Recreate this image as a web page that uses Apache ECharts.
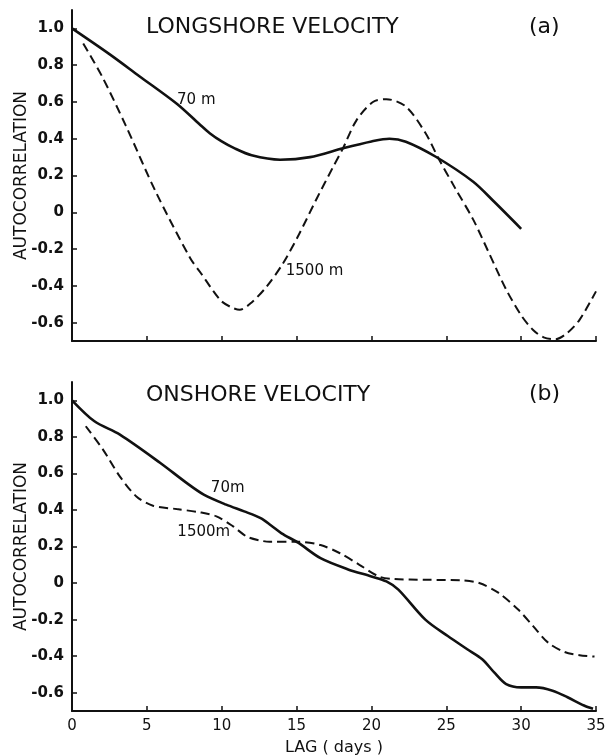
<!DOCTYPE html>
<html>
<head>
<meta charset="utf-8">
<script src="https://cdn.jsdelivr.net/npm/echarts@6/dist/echarts.min.js"></script>
<style>html,body{margin:0;padding:0;background:#fff}#c{width:606px;height:756px}</style>
</head>
<body>
<div id="c"></div>
<script>
// ---- data ----
const yTicks = [-0.6, -0.4, -0.2, 0, 0.2, 0.4, 0.6, 0.8, 1.0];
const xTicks = [0, 5, 10, 15, 20, 25, 30, 35];

// (a) Longshore velocity
const longDays70 = [0, 2.5, 4.5, 7.0, 8.5, 9.2, 10.0, 10.8, 12.0, 13.9, 15.9, 18.1, 20.0, 21.2, 22.3, 24.3, 26.8, 28.2, 30.0];
const longVal70  = [1.0, 0.86, 0.74, 0.59, 0.48, 0.43, 0.385, 0.35, 0.31, 0.286, 0.30, 0.348, 0.385, 0.40, 0.384, 0.302, 0.166, 0.057, -0.09];
const longDays1500 = [0.75, 2.0, 3.6, 5.6, 7.9, 8.6, 9.9, 10.6, 11.2, 12.0, 13.0, 14.1, 15.2, 16.3, 17.45, 18.1, 19.0, 20.1, 21.0, 22.3, 23.6, 24.5, 25.6, 26.8, 27.9, 29.0, 30.0, 30.8, 31.5, 32.3, 33.1, 33.9, 35.0];
const longVal1500  = [0.918, 0.74, 0.47, 0.11, -0.25, -0.33, -0.477, -0.515, -0.53, -0.49, -0.404, -0.277, -0.114, 0.067, 0.248, 0.348, 0.50, 0.60, 0.615, 0.575, 0.432, 0.29, 0.13, -0.04, -0.23, -0.42, -0.56, -0.64, -0.68, -0.69, -0.655, -0.585, -0.43];

// (b) Onshore velocity
const onDays70 = [0, 1.5, 3.2, 5.9, 7.65, 8.8, 10.3, 11.5, 12.6, 13.3, 14.0, 15.1, 16.6, 18.4, 20.0, 21.0, 21.8, 23.6, 25.1, 26.4, 27.4, 28.2, 29.0, 30.0, 31.0, 32.1, 33.1, 34.2, 34.8];
const onVal70  = [1.0, 0.885, 0.812, 0.657, 0.548, 0.484, 0.429, 0.392, 0.355, 0.315, 0.272, 0.221, 0.136, 0.076, 0.036, 0.009, -0.036, -0.2, -0.29, -0.362, -0.417, -0.489, -0.553, -0.571, -0.571, -0.589, -0.625, -0.67, -0.688];
const onDays1500 = [0.92, 2.07, 3.19, 4.3, 5.41, 6.98, 8.54, 9.65, 10.76, 11.66, 12.55, 13.2, 15.1, 16.6, 17.9, 19.2, 20.5, 21.5, 23.6, 26.1, 27.2, 28.5, 29.8, 30.8, 31.8, 32.9, 33.9, 34.9];
const onVal1500  = [0.858, 0.73, 0.584, 0.474, 0.423, 0.405, 0.387, 0.365, 0.31, 0.255, 0.233, 0.226, 0.226, 0.208, 0.163, 0.10, 0.036, 0.022, 0.018, 0.014, 0.0, -0.054, -0.145, -0.236, -0.326, -0.377, -0.395, -0.402];

const titles = ['LONGSHORE VELOCITY', 'ONSHORE VELOCITY'];
const panelTags = ['(a)', '(b)'];
const seriesNames = ['70 m', '1500 m'];
const annotTop = [{t: '70 m', c: [8.3, 0.61]}, {t: '1500 m', c: [16.2, -0.32]}];
const annotBot = [{t: '70m', c: [10.4, 0.52]}, {t: '1500m', c: [8.8, 0.28]}];

// ---- chart ----
const zip = (a, b) => a.map((v, i) => [v, b[i]]);
const FONT = 'DejaVu Sans';
const INK = '#111';

function xAxis(gi, showLabels) {
  return {
    type: 'value', gridIndex: gi, min: 0, max: 35, interval: 5,
    axisLine: {show: true, onZero: false, lineStyle: {color: INK, width: 2}},
    axisTick: {show: true, inside: true, length: 5, lineStyle: {color: INK, width: 1.5}},
    axisLabel: {show: showLabels, color: INK, fontFamily: FONT, fontSize: 15, margin: 8},
    splitLine: {show: false},
    name: showLabels ? 'LAG ( days )' : '', nameLocation: 'middle', nameGap: 29,
    nameTextStyle: {color: INK, fontFamily: FONT, fontSize: 16}
  };
}
function yAxis(gi) {
  return {
    type: 'value', gridIndex: gi, min: -0.7, max: 1.1,
    axisLine: {show: true, onZero: false, lineStyle: {color: INK, width: 2}},
    axisTick: {show: true, inside: true, length: 5, customValues: yTicks, lineStyle: {color: INK, width: 1.5}},
    axisLabel: {show: true, customValues: yTicks, color: INK, fontFamily: FONT, fontSize: 15, fontWeight: 'bold', margin: 8,
      formatter: v => (Math.abs(v) < 1e-9 ? '0' : v.toFixed(1))},
    splitLine: {show: false},
    name: 'AUTOCORRELATION', nameLocation: 'middle', nameGap: 42, nameRotate: 90, nameMoveOverlap: false,
    nameTextStyle: {color: INK, fontFamily: FONT, fontSize: 17}
  };
}
function line(name, gi, data, dashed, annot) {
  return {
    type: 'line', name: name, xAxisIndex: gi, yAxisIndex: gi, data: data,
    smooth: 0.3, showSymbol: false, symbol: 'none',
    lineStyle: {color: INK, width: dashed ? 2 : 2.6, type: dashed ? [9, 5] : 'solid'},
    markPoint: {
      symbol: 'circle', symbolSize: 0, silent: true,
      label: {show: true, position: 'inside', color: INK, fontFamily: FONT, fontSize: 15, formatter: p => p.name},
      data: [{name: annot.t, coord: annot.c}]
    }
  };
}

const tStyle = {color: INK, fontFamily: FONT, fontSize: 22, fontWeight: 'normal'};
const chart = echarts.init(document.getElementById('c'), null, {renderer: 'canvas'});
chart.setOption({
  animation: false,
  backgroundColor: '#fff',
  grid: [
    {left: 72, right: 10, top: 10, height: 331, containLabel: false, outerBoundsMode: 'none'},
    {left: 72, right: 10, top: 382, height: 329, containLabel: false, outerBoundsMode: 'none'}
  ],
  title: [
    {text: titles[0], left: 141, top: 11, textStyle: tStyle},
    {text: panelTags[0], left: 524, top: 11, textStyle: tStyle},
    {text: titles[1], left: 141, top: 379, textStyle: tStyle},
    {text: panelTags[1], left: 524, top: 378, textStyle: tStyle}
  ],
  xAxis: [xAxis(0, false), xAxis(1, true)],
  yAxis: [yAxis(0), yAxis(1)],
  series: [
    line(seriesNames[0], 0, zip(longDays70, longVal70), false, annotTop[0]),
    line(seriesNames[1], 0, zip(longDays1500, longVal1500), true, annotTop[1]),
    line(seriesNames[0], 1, zip(onDays70, onVal70), false, annotBot[0]),
    line(seriesNames[1], 1, zip(onDays1500, onVal1500), true, annotBot[1])
  ]
});
</script>
</body>
</html>
